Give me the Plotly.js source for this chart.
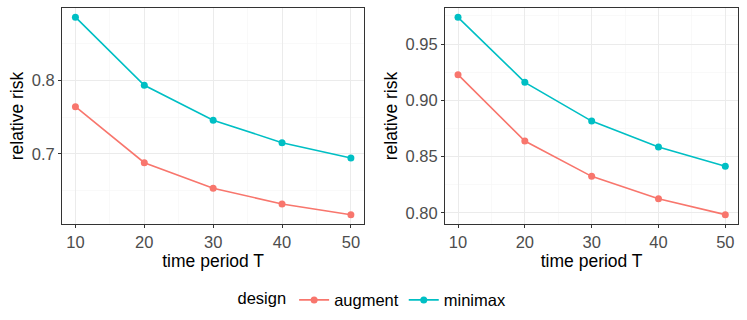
<!DOCTYPE html>
<html>
<head>
<meta charset="utf-8">
<script src="https://cdn.plot.ly/plotly-3.0.1.min.js"></script>
<style>html,body{margin:0;padding:0;background:#fff;}</style>
</head>
<body>
<div id="chart" style="width:747px;height:320px;"></div>
<script>
    const periods = [10, 20, 30, 40, 50];
    // left panel
    const augmentL = [0.7645, 0.6881, 0.6532, 0.6318, 0.6172];
    const minimaxL = [0.8865, 0.7937, 0.746, 0.7154, 0.6945];
    // right panel
    const augmentR = [0.9228, 0.8639, 0.8325, 0.8127, 0.7985];
    const minimaxR = [0.9737, 0.916, 0.8816, 0.8585, 0.8414];

    const colAug = '#F8766D', colMin = '#00BFC4';
    const font = 'Liberation Sans, Arial, sans-serif';

    function series(y, name, color, xa, ya, show) {
        return {
            x: periods, y: y, name: name, xaxis: xa, yaxis: ya,
            type: 'scatter', mode: 'lines+markers',
            line: {color: color, width: 1.6},
            marker: {color: color, size: 7},
            showlegend: show, legendgroup: name
        };
    }

    const data = [
        series(augmentL, 'augment', colAug, 'x', 'y', true),
        series(minimaxL, 'minimax', colMin, 'x', 'y', true),
        series(augmentR, 'augment', colAug, 'x2', 'y2', false),
        series(minimaxR, 'minimax', colMin, 'x2', 'y2', false)
    ];

    function xAxis(domain, anchor) {
        return {
            domain: domain, anchor: anchor, range: [8.05, 51.95],
            tickvals: periods, ticks: 'outside', ticklen: 3, tickcolor: '#333333',
            tickfont: {size: 16.5, color: '#4d4d4d'},
            showgrid: true, gridcolor: '#ebebeb', gridwidth: 1,
            minor: {dtick: 5, tick0: 5, showgrid: true, gridcolor: '#f5f5f5', gridwidth: 0.6},
            showline: true, mirror: true, linecolor: '#333333', linewidth: 1,
            zeroline: false, automargin: false,
            title: {text: 'time period T', font: {size: 17.5, color: '#000'}, standoff: 3}
        };
    }
    function yAxis(domain, anchor, range, dtick, fmt) {
        return {
            domain: domain, anchor: anchor, range: range,
            dtick: dtick, tick0: 0, tickformat: fmt,
            ticks: 'outside', ticklen: 3, tickcolor: '#333333',
            tickfont: {size: 16.5, color: '#4d4d4d'},
            showgrid: true, gridcolor: '#ebebeb', gridwidth: 1,
            minor: {dtick: dtick / 2, tick0: dtick / 2, showgrid: true, gridcolor: '#f5f5f5', gridwidth: 0.6},
            showline: true, mirror: true, linecolor: '#333333', linewidth: 1,
            zeroline: false, automargin: false,
            title: {text: 'relative risk', font: {size: 17.5, color: '#000'}, standoff: 3}
        };
    }

    const layout = {
        width: 747, height: 320,
        margin: {l: 0, r: 0, t: 0, b: 0},
        paper_bgcolor: 'white', plot_bgcolor: 'white',
        font: {family: font},
        xaxis: xAxis([0.083, 0.4877], 'y'),
        yaxis: yAxis([0.3, 0.975], 'x', [0.6045, 0.899], 0.1, '.1f'),
        xaxis2: xAxis([0.5957, 0.9884], 'y2'),
        yaxis2: yAxis([0.3, 0.975], 'x2', [0.7902, 0.982], 0.05, '.2f'),
        legend: {
            orientation: 'h', x: 0.5, xanchor: 'center', y: 0.062, yanchor: 'middle',
            title: {text: 'design', side: 'left', font: {size: 16.5, color: '#000'}},
            font: {size: 16.5, color: '#000'}, itemwidth: 30, valign: 'middle'
        }
    };

    Plotly.newPlot('chart', data, layout, {displayModeBar: false, staticPlot: true});
</script>
</body>
</html>
